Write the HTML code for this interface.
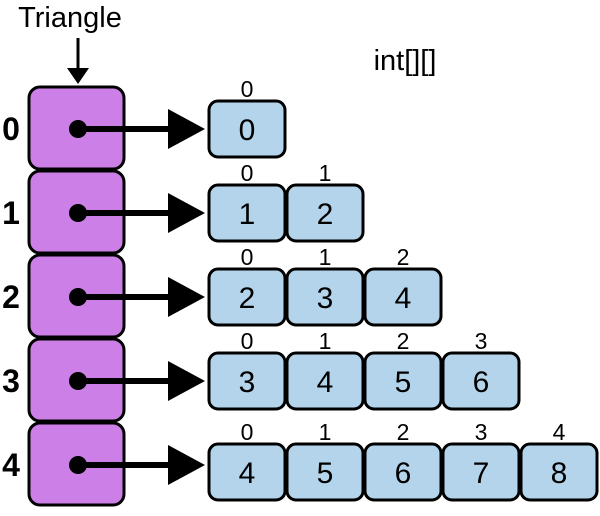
<!DOCTYPE html>
<html><head><meta charset="utf-8"><style>
body{margin:0;background:#fff}
svg text{font-family:"Liberation Sans Narrow","Liberation Sans",sans-serif}
</style></head><body>
<svg id="d" width="600" height="511" viewBox="0 0 600 511">
<text x="70" y="27" font-size="29" text-anchor="middle">Triangle</text>
<line x1="78" y1="38" x2="78" y2="70" stroke="#000" stroke-width="3"/>
<polygon points="67,68 89,68 78,84" fill="#000"/>
<text x="405" y="70" font-size="29" text-anchor="middle">int[][]</text>
<g id="rows"></g>
</svg>
<script>
const rowValues=[[0],[1,2],[2,3,4],[3,4,5,6],[4,5,6,7,8]];
const rowLabels=["0","1","2","3","4"];
const NS="http://www.w3.org/2000/svg";
const g=document.getElementById('rows');
function mk(t,a,txt){const e=document.createElementNS(NS,t);for(const k in a)e.setAttribute(k,a[k]);if(txt!==undefined)e.textContent=txt;g.appendChild(e);return e;}
rowValues.forEach((vals,i)=>{
  const top=87+i*84, cy=top+42;
  let e=mk('rect',{x:29,y:top,width:95,height:82,rx:11,fill:'#cc7fe6',stroke:'#000','stroke-width':3});
  
  
  e=mk('text',{x:11,y:cy+11,'font-size':32,'font-weight':'bold','text-anchor':'middle'},rowLabels[i]);
  
  
  e=mk('circle',{cx:78,cy:cy,r:9,fill:'#000'});
  
  
  e=mk('line',{x1:78,y1:cy,x2:172,y2:cy,stroke:'#000','stroke-width':6});
  
  
  e=mk('polygon',{points:`168,${cy-20} 205,${cy} 168,${cy+20}`,fill:'#000'});
  
  
  const bt=(i===4?444:cy-28);
  vals.forEach((v,j)=>{
    const x=209+j*78;
    let r=mk('rect',{x:x,y:bt,width:76,height:56,rx:9,fill:'#b3d4ea',stroke:'#000','stroke-width':3});
    
    
    r=mk('text',{x:x+38,y:bt+39,'font-size':30,'text-anchor':'middle'},String(v));
    
    
    r=mk('text',{x:x+38,y:bt-4,'font-size':23,'text-anchor':'middle'},String(j));
    
    
  });
});
</script>
</body></html>
